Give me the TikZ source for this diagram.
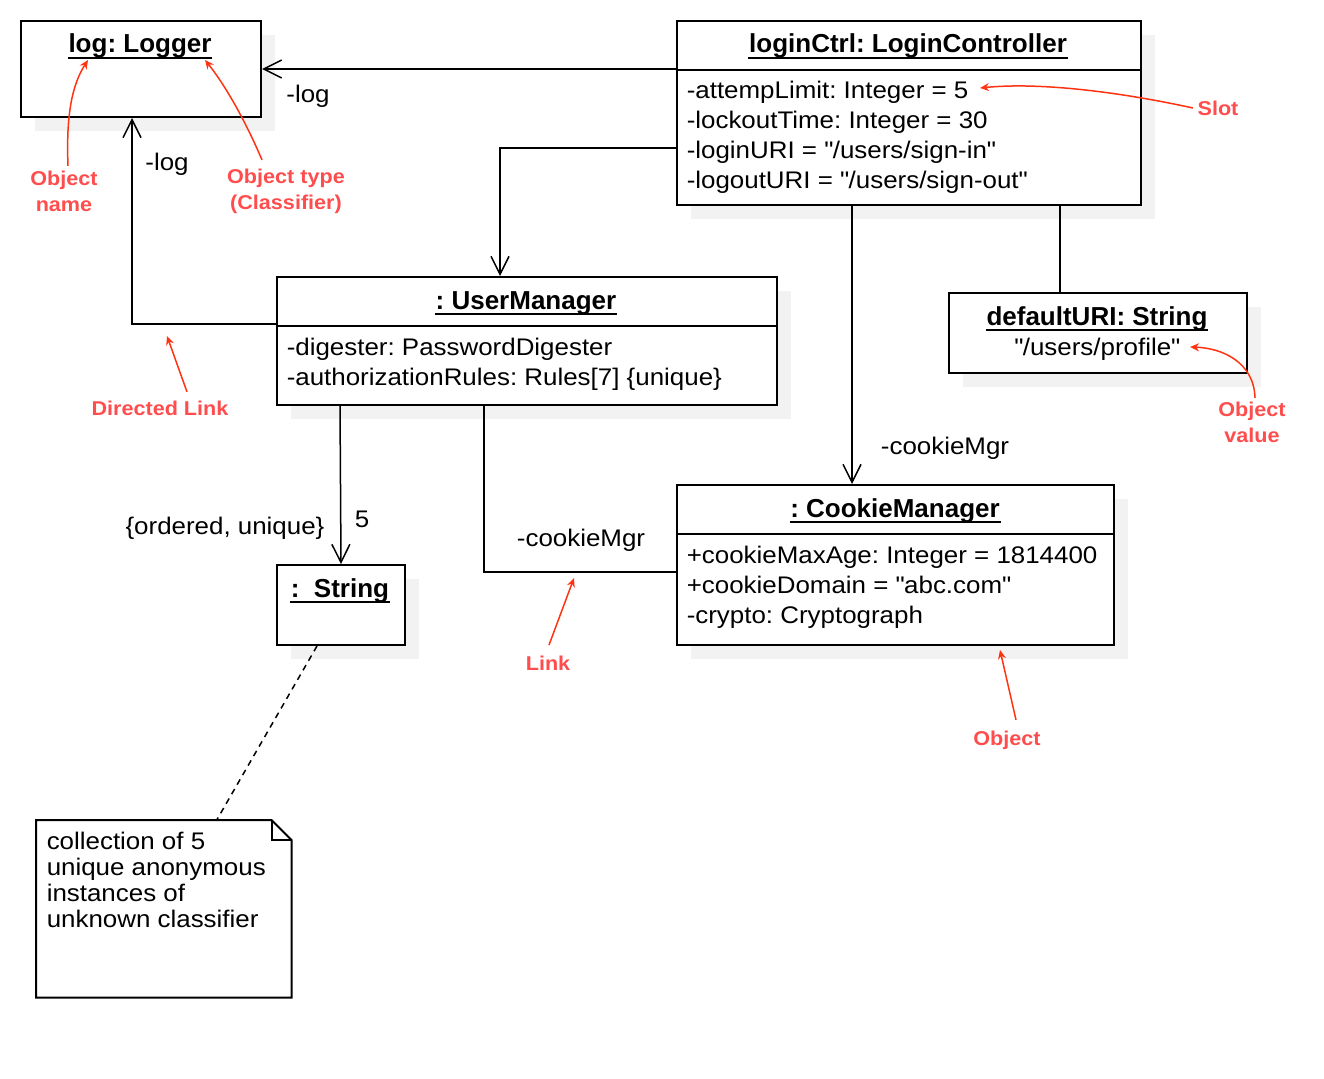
\documentclass[tikz,border=0pt]{standalone}
\usepackage{fontspec}
\setmainfont{Liberation Sans}[FakeStretch=1.08]
\newfontfamily\headfont{Liberation Sans}
\usetikzlibrary{arrows.meta,shadows}
\definecolor{hintred}{RGB}{255,77,77}
\definecolor{pointred}{RGB}{255,51,17}
\newcommand\dq{\textquotedbl}
\tikzset{
	obj/.style={draw, line width=2pt, fill=white, anchor=north west, inner sep=0pt,
		drop shadow={shadow xshift=14pt, shadow yshift=-14pt, fill=black!5, opacity=1}},
	head/.style={font=\headfont\bfseries\fontsize{26}{30}\selectfont, inner sep=0pt, anchor=base},
	slot/.style={font=\fontsize{24}{30}\selectfont, inner sep=0pt, anchor=base west},
	lbl/.style={font=\fontsize{24}{30}\selectfont, inner sep=0pt},
	hint/.style={font=\bfseries\fontsize{20}{26}\selectfont, text=hintred, align=center, inner sep=0pt},
	pointer/.style={pointred, line width=1.5pt, -{Stealth[length=9pt,width=8pt]}}
}
\begin{document}
\frenchspacing
\begin{tikzpicture}[x=1pt, y=-1pt, line width=1.5pt, >={Straight Barb[length=18pt,width=18pt]}]
	\useasboundingbox (0,0) rectangle (1324,1078);

	% objects
	\node[obj, minimum width=240pt, minimum height=96pt] (log) at (20,20) {};
	\node[obj, minimum width=464pt, minimum height=184pt] (ctrl) at (676,20) {};
	\node[obj, minimum width=500pt, minimum height=128pt] (um) at (276,276) {};
	\node[obj, minimum width=128pt, minimum height=80pt] (str) at (276,564) {};
	\node[obj, minimum width=437pt, minimum height=160pt] (cm) at (676,484) {};
	\node[obj, minimum width=298pt, minimum height=80pt] (uri) at (948,292) {};

	\draw[line width=2pt] (ctrl.west |- 0,70) -- (ctrl.east |- 0,70);
	\draw[line width=2pt] (um.west |- 0,326) -- (um.east |- 0,326);
	\draw[line width=2pt] (cm.west |- 0,534) -- (cm.east |- 0,534);

	\node[head] (logT) at (140,53) {log: Logger};
	\node[head] (ctrlT) at (908,53) {loginCtrl: LoginController};
	\node[head] (umT) at (526,309) {: UserManager};
	\node[head] (strT) at (340,597) {:~\ String};
	\node[head] (cmT) at (895,517) {: CookieManager};
	\node[head] (uriT) at (1097,325) {defaultURI: String};
	\foreach \t in {logT,ctrlT,umT,strT,cmT,uriT}
		\draw[line width=2pt] ([yshift=-5pt]\t.base west) -- ([yshift=-5pt]\t.base east);
	\node[lbl, anchor=base] (uriV) at (1097,355) {\dq/users/profile\dq};

	\foreach \s [count=\i] in {{-attempLimit: Integer = 5}, {-lockoutTime: Integer = 30},
			{-loginURI = \dq/users/sign-in\dq}, {-logoutURI = \dq/users/sign-out\dq}}
		\node[slot] (ctrlS\i) at (686, 69+30*\i) {\s};
	\foreach \s [count=\i] in {{-digester: PasswordDigester}, {-authorizationRules: Rules[7] \{unique\}}}
		\node[slot] (umS\i) at (286, 325+30*\i) {\s};
	\foreach \s [count=\i] in {{+cookieMaxAge: Integer = 1814400}, {+cookieDomain = \dq abc.com\dq},
			{-crypto: Cryptograph}}
		\node[slot] (cmS\i) at (686, 533+30*\i) {\s};

	% note
	\node[minimum width=254pt, minimum height=176pt, anchor=north west, inner sep=0pt] (note) at (36,820) {};
	\draw[line width=2pt, fill=white] (note.north west) -- ([xshift=-20pt]note.north east)
		-- ([yshift=-20pt]note.north east) -- (note.south east) -- (note.south west) -- cycle;
	\draw[line width=2pt] ([xshift=-20pt]note.north east) |- ([yshift=-20pt]note.north east);
	\foreach \s [count=\i] in {collection of 5, unique anonymous, instances of, unknown classifier}
		\node[slot] (noteS\i) at (46, 823.5+26*\i) {\s};

	% links
	\draw[->] (ctrl.west |- log.east) -- (log.east);
	\draw[->] (ctrl.west |- 0,148) -| (um.north -| 500,0);
	\draw[->] (um.west |- 0,324) -| (log.south -| 132,0);
	\draw[->] (ctrl.south -| 852,0) -- (cm.north -| 852,0);
	\draw (ctrl.south -| 1060,0) -- (uri.north -| 1060,0);
	\draw (um.south -| 484,0) |- (cm.west |- 0,572);
	\draw[->] (um.south -| 340,0) -- (str.north);
	\draw[dash pattern=on 6pt off 5pt] ([xshift=-24pt]str.south) -- ([xshift=53pt]note.north);

	\node[lbl] (logL1) at (308,96) {-log};
	\node[lbl] (logL2) at (167,164) {-log};
	\node[lbl] (cmL1) at (945,448) {-cookieMgr};
	\node[lbl] (cmL2) at (581,540) {-cookieMgr};
	\node[lbl] (ordL) at (225,528) {\{ordered, unique\}};
	\node[lbl] (multL) at (362,519) {5};

	% hints
	\node[hint] (nameH) at (64,191) {Object\\name};
	\node[hint] (typeH) at (286,191) {Object type\\(Classifier)};
	\node[hint] (slotH) at (1218,108) {Slot};
	\node[hint] (dirH) at (160,408) {Directed Link};
	\node[hint] (valH) at (1252,422) {Object\\value};
	\node[hint] (linkH) at (548,663) {Link};
	\node[hint] (objH) at (1007,740) {Object};

	\coordinate (nameTip) at (88,60);
	\coordinate (typeTip) at (205,60);
	\coordinate (slotTip) at (980,88);
	\coordinate (dirTip) at (167,336);
	\coordinate (valTip) at (1190,347);
	\coordinate (linkTip) at (574,578);
	\coordinate (objTip) at (1000,650);

	\draw[pointer] ([xshift=4pt, yshift=4pt]nameH.north) .. controls (66,115) and (72,85) .. (nameTip);
	\draw[pointer] ([xshift=-24pt, yshift=8pt]typeH.north) .. controls (245,120) and (225,85) .. (typeTip);
	\draw[pointer] ([xshift=-4pt]slotH.west) .. controls (1120,92) and (1040,82) .. (slotTip);
	\draw[pointer] ([xshift=27pt, yshift=8pt]dirH.north) -- (dirTip);
	\draw[pointer] ([xshift=3pt, yshift=3pt]valH.north) .. controls (1254,362) and (1222,348) .. (valTip);
	\draw[pointer] ([xshift=1pt, yshift=10pt]linkH.north) -- (linkTip);
	\draw[pointer] ([xshift=9pt, yshift=10pt]objH.north) -- (objTip);

\end{tikzpicture}
\end{document}
